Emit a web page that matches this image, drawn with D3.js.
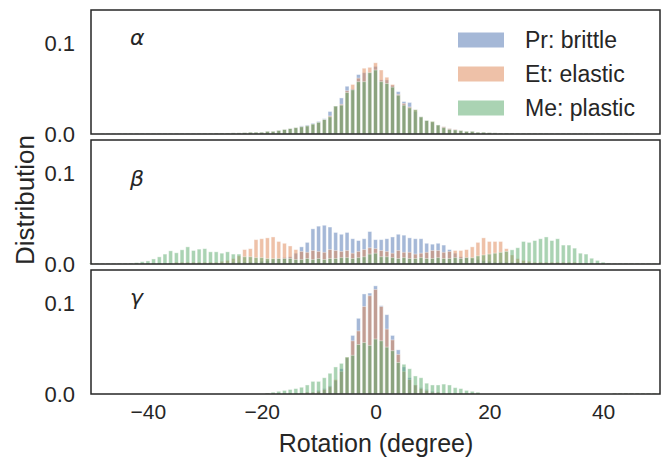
<!DOCTYPE html>
<html>
<head>
<meta charset="utf-8">
<script src="https://d3js.org/d3.v7.min.js"></script>
<style>
	body { margin: 0; background: white; }
	svg text { font-family: "Liberation Sans", Arial, sans-serif; fill: #262626; }
	.greek { font-family: "DejaVu Sans", sans-serif; font-style: italic; }
</style>
</head>
<body>
<svg width="661" height="463"></svg>
<script>
// bin centres (degree), one bar per bin
var degrees = [
	-50,-49,-48,-47,-46,-45,-44,-43,-42,-41,
	-40,-39,-38,-37,-36,-35,-34,-33,-32,-31,
	-30,-29,-28,-27,-26,-25,-24,-23,-22,-21,
	-20,-19,-18,-17,-16,-15,-14,-13,-12,-11,
	-10,-9,-8,-7,-6,-5,-4,-3,-2,-1,
	0,1,2,3,4,5,6,7,8,9,
	10,11,12,13,14,15,16,17,18,19,
	20,21,22,23,24,25,26,27,28,29,
	30,31,32,33,34,35,36,37,38,39,
	40,41,42,43,44,45,46,47,48,49
];

var seriesNames = ["Pr: brittle", "Et: elastic", "Me: plastic"];
var panelLabels = ["\u03b1", "\u03b2", "\u03b3"];
var xTicks = [-40, -20, 0, 20, 40];
var yTicks = [0, 0.1];

// alpha panel
var alphaBrittle = [
	0,0,0.0006,0.0006,0.0006,0.0006,0.0006,0.0006,0.0006,0.0006,
	0.0006,0.0006,0.0006,0.0006,0.0006,0.0006,0.0006,0.0006,0.0006,0.0006,
	0.0008,0.0008,0.001,0.001,0.001,0.0012,0.0012,0.0015,0.002,0.002,
	0.002,0.003,0.003,0.004,0.005,0.006,0.007,0.009,0.010,0.012,
	0.014,0.017,0.025,0.031,0.040,0.053,0.050,0.066,0.068,0.068,
	0.075,0.060,0.060,0.054,0.047,0.036,0.035,0.025,0.019,0.015,
	0.013,0.010,0.008,0.006,0.005,0.004,0.003,0.003,0.002,0.002,
	0.0015,0.0012,0.001,0.001,0.001,0.0008,0.0008,0.0008,0.0008,0.0008,
	0.0006,0.0006,0.0006,0.0006,0.0006,0.0006,0.0006,0.0006,0.0006,0.0006,
	0.0006,0.0006,0.0006,0.0006,0.0006,0.0006,0.0006,0,0,0
];
var alphaElastic = [
	0,0,0.0006,0.0006,0.0006,0.0006,0.0006,0.0006,0.0006,0.0006,
	0.0006,0.0006,0.0006,0.0006,0.0006,0.0006,0.0006,0.0006,0.0006,0.0006,
	0.0008,0.0008,0.001,0.001,0.001,0.0012,0.0012,0.0015,0.002,0.002,
	0.002,0.003,0.003,0.004,0.005,0.006,0.007,0.008,0.009,0.011,
	0.013,0.016,0.020,0.031,0.033,0.048,0.055,0.062,0.073,0.074,
	0.079,0.071,0.063,0.055,0.044,0.034,0.030,0.027,0.019,0.015,
	0.014,0.010,0.008,0.006,0.005,0.004,0.003,0.003,0.002,0.002,
	0.0015,0.0012,0.001,0.001,0.001,0.0008,0.0008,0.0008,0.0008,0.0008,
	0.0006,0.0006,0.0006,0.0006,0.0006,0.0006,0.0006,0.0006,0.0006,0.0006,
	0.0006,0.0006,0.0006,0.0006,0.0006,0.0006,0.0006,0,0,0
];
var alphaPlastic = [
	0,0,0.0006,0.0006,0.0006,0.0006,0.0006,0.0006,0.0006,0.0006,
	0.0006,0.0006,0.0006,0.0006,0.0006,0.0006,0.0006,0.0006,0.0006,0.0006,
	0.0008,0.0008,0.001,0.001,0.001,0.0012,0.0012,0.0015,0.002,0.002,
	0.002,0.003,0.003,0.004,0.005,0.006,0.007,0.008,0.009,0.011,
	0.013,0.016,0.019,0.031,0.032,0.046,0.049,0.058,0.058,0.068,
	0.071,0.058,0.056,0.052,0.043,0.032,0.029,0.027,0.019,0.015,
	0.014,0.010,0.007,0.005,0.0045,0.0037,0.003,0.003,0.002,0.002,
	0.0015,0.0012,0.001,0.001,0.001,0.0008,0.0008,0.0008,0.0008,0.0008,
	0.0006,0.0006,0.0006,0.0006,0.0006,0.0006,0.0006,0.0006,0.0006,0.0006,
	0.0006,0.0006,0.0006,0.0006,0.0006,0.0006,0.0006,0,0,0
];

// beta panel
var betaBrittle = [
	0.0008,0.0008,0.0008,0.0008,0.0008,0.0008,0.0008,0.0008,0.001,0.001,
	0.001,0.001,0.001,0.001,0.001,0.001,0.001,0.001,0.001,0.001,
	0.001,0.001,0.001,0.001,0.001,0.002,0.002,0.002,0.002,0.002,
	0.003,0.004,0.005,0.006,0.007,0.008,0.012,0.019,0.024,0.039,
	0.042,0.043,0.041,0.035,0.033,0.035,0.028,0.026,0.028,0.036,
	0.027,0.027,0.028,0.030,0.033,0.032,0.029,0.028,0.028,0.023,
	0.022,0.023,0.021,0.016,0.012,0.008,0.007,0.006,0.005,0.004,
	0.003,0.002,0.002,0.002,0.002,0.002,0.001,0.001,0.001,0.001,
	0.001,0.001,0.001,0.001,0.001,0.001,0.001,0.001,0.001,0.001,
	0.0008,0.0008,0.0008,0.0008,0.0008,0.0008,0.0008,0.0008,0.0008,0.0008
];
var betaElastic = [
	0.0008,0.0008,0.0008,0.0008,0.0008,0.0008,0.0008,0.0008,0.001,0.001,
	0.001,0.001,0.001,0.001,0.001,0.002,0.002,0.002,0.002,0.002,
	0.002,0.002,0.002,0.003,0.004,0.006,0.009,0.016,0.017,0.027,
	0.028,0.029,0.030,0.025,0.023,0.020,0.016,0.014,0.013,0.015,
	0.014,0.013,0.016,0.015,0.014,0.015,0.012,0.014,0.016,0.018,
	0.017,0.015,0.014,0.012,0.015,0.013,0.013,0.011,0.012,0.013,
	0.015,0.015,0.013,0.014,0.015,0.015,0.016,0.019,0.024,0.029,
	0.025,0.025,0.025,0.017,0.010,0.006,0.004,0.003,0.002,0.002,
	0.002,0.002,0.002,0.002,0.002,0.002,0.001,0.001,0.001,0.001,
	0.0008,0.0008,0.0008,0.0008,0.0008,0.0008,0.0008,0.0008,0.0008,0.0008
];
var betaPlastic = [
	0.0008,0.0008,0.0008,0.0008,0.0008,0.0008,0.0008,0.001,0.0015,0.0026,
	0.0034,0.0056,0.0079,0.011,0.0146,0.0124,0.0157,0.019,0.015,0.0165,
	0.017,0.0135,0.0135,0.012,0.0135,0.011,0.011,0.008,0.008,0.007,
	0.007,0.006,0.006,0.006,0.006,0.006,0.005,0.005,0.006,0.005,
	0.006,0.005,0.006,0.006,0.007,0.007,0.006,0.007,0.008,0.011,
	0.012,0.008,0.008,0.007,0.006,0.007,0.006,0.006,0.007,0.006,
	0.006,0.007,0.006,0.006,0.007,0.006,0.007,0.007,0.009,0.010,
	0.011,0.012,0.013,0.014,0.0157,0.018,0.025,0.024,0.026,0.028,
	0.030,0.026,0.028,0.021,0.021,0.0176,0.012,0.011,0.0064,0.004,
	0.002,0.001,0.0008,0.0008,0.0008,0.0008,0.0008,0.0008,0.0008,0.0008
];

// gamma panel
var gammaBrittle = [
	0,0,0,0,0,0,0,0,0,0,
	0,0,0,0,0,0,0,0,0,0,
	0,0,0,0,0,0,0,0,0,0,
	0,0.001,0.001,0.001,0.001,0.001,0.001,0.001,0.002,0.002,
	0.004,0.006,0.009,0.015,0.028,0.040,0.065,0.084,0.111,0.112,
	0.120,0.098,0.088,0.065,0.049,0.030,0.018,0.010,0.007,0.005,
	0.003,0.002,0.001,0.001,0.001,0.001,0.001,0.001,0.001,0,
	0,0,0,0,0,0,0,0,0,0,
	0,0,0,0,0,0,0,0,0,0,
	0,0,0.001,0.001,0.001,0.001,0.001,0.001,0.001,0.001
];
var gammaElastic = [
	0,0,0,0,0,0,0,0,0,0,
	0,0,0,0,0,0,0,0,0,0,
	0,0,0,0,0,0,0,0,0,0,
	0,0.001,0.001,0.001,0.001,0.001,0.001,0.001,0.002,0.002,
	0.003,0.005,0.008,0.016,0.025,0.041,0.059,0.070,0.097,0.109,
	0.116,0.097,0.072,0.060,0.044,0.025,0.016,0.010,0.006,0.004,
	0.002,0.002,0.001,0.001,0.001,0.001,0.001,0.001,0.001,0,
	0,0,0,0,0,0,0,0,0,0,
	0,0,0,0,0,0,0,0,0,0,
	0,0,0.001,0.001,0.001,0.001,0.001,0.001,0.001,0.001
];
var gammaPlastic = [
	0,0,0,0,0,0,0,0,0,0,
	0,0,0,0,0,0,0,0,0,0,
	0,0,0,0,0,0,0,0,0,0,
	0,0.001,0.002,0.003,0.004,0.005,0.006,0.0075,0.010,0.014,
	0.014,0.018,0.023,0.030,0.034,0.041,0.043,0.055,0.057,0.054,
	0.061,0.059,0.052,0.048,0.035,0.033,0.028,0.020,0.018,0.012,
	0.010,0.010,0.011,0.010,0.007,0.006,0.004,0.003,0.002,0,
	0,0,0,0,0,0,0,0,0,0,
	0,0,0,0,0,0,0,0,0,0,
	0,0,0.001,0.001,0.001,0.001,0.001,0.001,0.001,0.001
];
</script>
<script>
var panels = [
	[alphaBrittle, alphaElastic, alphaPlastic],
	[betaBrittle, betaElastic, betaPlastic],
	[gammaBrittle, gammaElastic, gammaPlastic]
];
var colors = ["#4C72B0", "#DD8452", "#55A868"];

var svg = d3.select("svg"),
	left = 91, right = 660,
	tops = [10, 140, 270],
	ph = 124;

var x = d3.scaleLinear().domain([-50, 50]).range([left, right]);

panels.forEach(function(series, p) {
	var top = tops[p], bottom = top + ph;
	var y = d3.scaleLinear().domain([0, 0.1376]).range([bottom, top]);
	var g = svg.append("g");

	series.forEach(function(vals, s) {
		g.append("g").selectAll("rect")
			.data(degrees)
			.enter()
			.append("rect")
			.attr("x", function(d) { return x(d - 0.5) + 0.9; })
			.attr("width", function(d) { return x(d + 0.5) - x(d - 0.5) - 1.8; })
			.attr("y", function(d, i) { return y(vals[i]); })
			.attr("height", function(d, i) { return bottom - y(vals[i]); })
			.attr("fill", colors[s])
			.attr("fill-opacity", 0.5)
			.attr("stroke", "white")
			.attr("stroke-opacity", 0.5)
			.attr("stroke-width", 0.8);
	});

	// y axis, no tick marks
	var ya = g.append("g")
		.attr("transform", "translate(" + left + ",0)")
		.call(d3.axisLeft(y).tickValues(yTicks).tickSize(0).tickPadding(16).tickFormat(d3.format(".1f")));
	ya.select(".domain").remove();
	ya.selectAll("text").style("font-size", "22px").attr("font-family", null);

	if (p == 2) {
		var xa = g.append("g")
			.attr("transform", "translate(0," + bottom + ")")
			.call(d3.axisBottom(x).tickValues(xTicks).tickSize(0).tickPadding(10));
		xa.select(".domain").remove();
		xa.selectAll("text").style("font-size", "21px").attr("font-family", null);
	}

	// frame
	g.append("rect")
		.attr("x", left).attr("y", top)
		.attr("width", right - left).attr("height", ph)
		.attr("fill", "none")
		.attr("stroke", "#262626")
		.attr("stroke-width", 1.5);

	g.append("text")
		.attr("class", "greek")
		.attr("x", 130)
		.attr("y", top + [35, 46, 35][p])
		.style("font-size", "22px")
		.text(panelLabels[p]);
});

// legend in first panel
var leg = svg.append("g");
seriesNames.forEach(function(name, s) {
	var cy = 40 + s * 34;
	leg.append("rect")
		.attr("x", 458).attr("y", cy - 7.5)
		.attr("width", 46).attr("height", 15)
		.attr("fill", colors[s]).attr("fill-opacity", 0.5);
	leg.append("text")
		.attr("x", 525).attr("y", cy)
		.attr("dy", "0.35em")
		.style("font-size", "23px")
		.text(name);
});

svg.append("text")
	.attr("x", 376).attr("y", 452)
	.attr("text-anchor", "middle")
	.style("font-size", "25px")
	.text("Rotation (degree)");

svg.append("text")
	.attr("transform", "translate(34,200) rotate(-90)")
	.attr("text-anchor", "middle")
	.style("font-size", "26px")
	.text("Distribution");
</script>
</body>
</html>
